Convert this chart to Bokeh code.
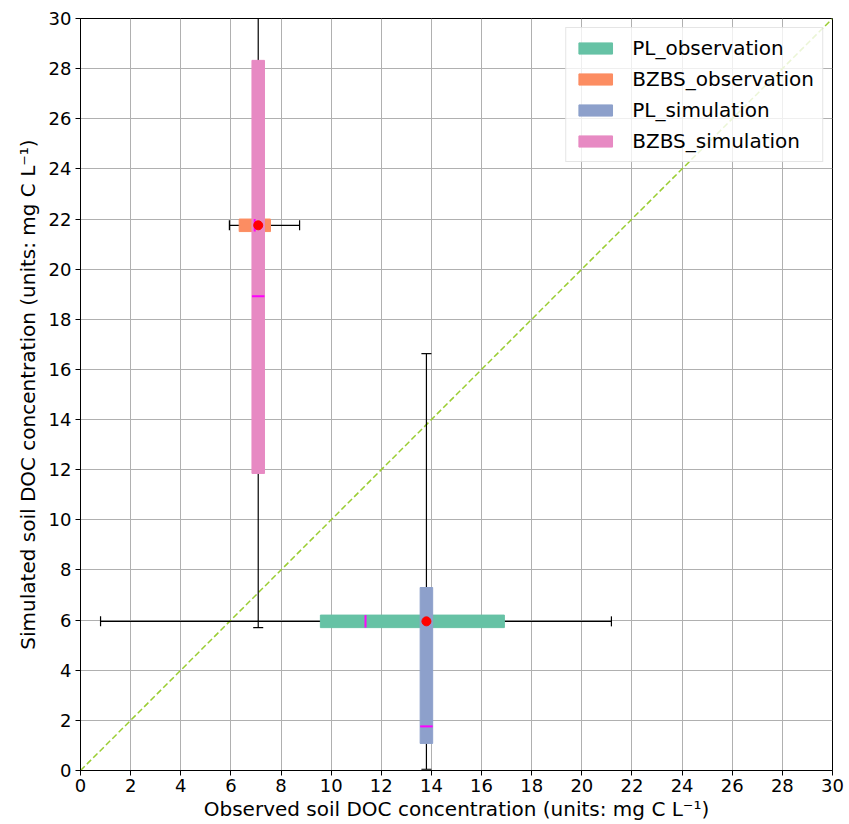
from bokeh.plotting import figure
from bokeh.models import Range1d, FixedTicker, Legend, LegendItem
from bokeh.embed import file_html
from bokeh.resources import INLINE

sites = ["PL", "BZBS"]
obs_mean = [13.80, 7.09]
obs_q1 = [9.57, 6.33]
obs_q3 = [16.91, 7.58]
obs_median = [11.37, 6.95]
obs_min = [0.80, 5.94]
obs_max = [21.18, 8.74]
sim_mean = [5.95, 21.75]
sim_q1 = [1.08, 11.85]
sim_q3 = [7.30, 28.33]
sim_median = [1.76, 18.92]
sim_min = [0.05, 5.70]
sim_max = [16.63, 32.50]
obs_colors = ["#66c2a5", "#fc8d62"]
sim_colors = ["#8da0cb", "#e78ac3"]
ticks = list(range(0, 31, 2))

FONT = "DejaVu Sans"
HW = 0.25   # half thickness of boxes (data units)
CAP = 0.2

p = figure(width=849, height=824, output_backend="svg", toolbar_location=None,
           x_range=Range1d(0, 30), y_range=Range1d(0, 30),
           min_border_left=80, min_border_right=17, min_border_top=18, min_border_bottom=54)
p.outline_line_color = "black"
p.outline_line_width = 1
for ax in (p.xaxis[0], p.yaxis[0]):
    ax.ticker = FixedTicker(ticks=ticks)
    ax.major_label_text_font = FONT
    ax.major_label_text_font_size = "18px"
    ax.major_label_text_color = "black"
    ax.axis_label_text_font = FONT
    ax.axis_label_text_font_size = "20px"
    ax.axis_label_text_font_style = "normal"
    ax.axis_label_text_color = "black"
    ax.minor_tick_line_color = None
    ax.major_tick_out = 5
    ax.major_tick_in = 0
    ax.axis_line_color = "black"
    ax.major_tick_line_color = "black"
p.xaxis[0].axis_label = "Observed soil DOC concentration (units: mg C L\u207b\u00b9)"
p.yaxis[0].axis_label = "Simulated soil DOC concentration (units: mg C L\u207b\u00b9)"
p.xaxis[0].axis_label_standoff = 2
p.yaxis[0].axis_label_standoff = 6
p.xaxis[0].major_label_standoff = 3
p.yaxis[0].major_label_standoff = 4
p.grid.grid_line_color = "#b0b0b0"
p.grid.grid_line_width = 1
p.grid.grid_line_alpha = 1.0

# 1:1 line
p.line([0, 30], [0, 30], line_color="#9acd32", line_width=1.5, line_dash="6 3")

# whiskers
p.segment(obs_min, sim_mean, obs_max, sim_mean, line_color="black", line_width=1.2)
p.segment(obs_min, [y - CAP for y in sim_mean], obs_min, [y + CAP for y in sim_mean], line_color="black", line_width=1.2)
p.segment(obs_max, [y - CAP for y in sim_mean], obs_max, [y + CAP for y in sim_mean], line_color="black", line_width=1.2)
p.segment(obs_mean, sim_min, obs_mean, sim_max, line_color="black", line_width=1.2)
p.segment([x - CAP for x in obs_mean], sim_min, [x + CAP for x in obs_mean], sim_min, line_color="black", line_width=1.2)
p.segment([x - CAP for x in obs_mean], sim_max, [x + CAP for x in obs_mean], sim_max, line_color="black", line_width=1.2)

renderers = {}
for i, s in enumerate(sites):
    renderers[s + "_observation"] = p.quad(left=[obs_q1[i]], right=[obs_q3[i]],
                                           bottom=[sim_mean[i] - HW], top=[sim_mean[i] + HW],
                                           fill_color=obs_colors[i], line_color=obs_colors[i])
for i, s in enumerate(sites):
    renderers[s + "_simulation"] = p.quad(left=[obs_mean[i] - HW], right=[obs_mean[i] + HW],
                                          bottom=[sim_q1[i]], top=[sim_q3[i]],
                                          fill_color=sim_colors[i], line_color=sim_colors[i])

# medians
p.segment(obs_median, [y - HW for y in sim_mean], obs_median, [y + HW for y in sim_mean],
          line_color="#ff00ff", line_width=2)
p.segment([x - HW for x in obs_mean], sim_median, [x + HW for x in obs_mean], sim_median,
          line_color="#ff00ff", line_width=2)
# means
p.scatter(obs_mean, sim_mean, size=9, fill_color="red", line_color="red")

order = ["PL_observation", "BZBS_observation", "PL_simulation", "BZBS_simulation"]
legend = Legend(items=[LegendItem(label=k, renderers=[renderers[k]]) for k in order],
                location="top_right")
legend.label_text_font = FONT
legend.label_text_font_size = "20px"
legend.label_text_color = "black"
legend.glyph_width = 42
legend.glyph_height = 14
legend.spacing = 7
legend.padding = 8
legend.margin = 9
legend.label_standoff = 16
legend.border_line_color = "#cccccc"
legend.background_fill_alpha = 0.8
p.add_layout(legend)

open("out.html", "w").write(file_html(p, INLINE))
